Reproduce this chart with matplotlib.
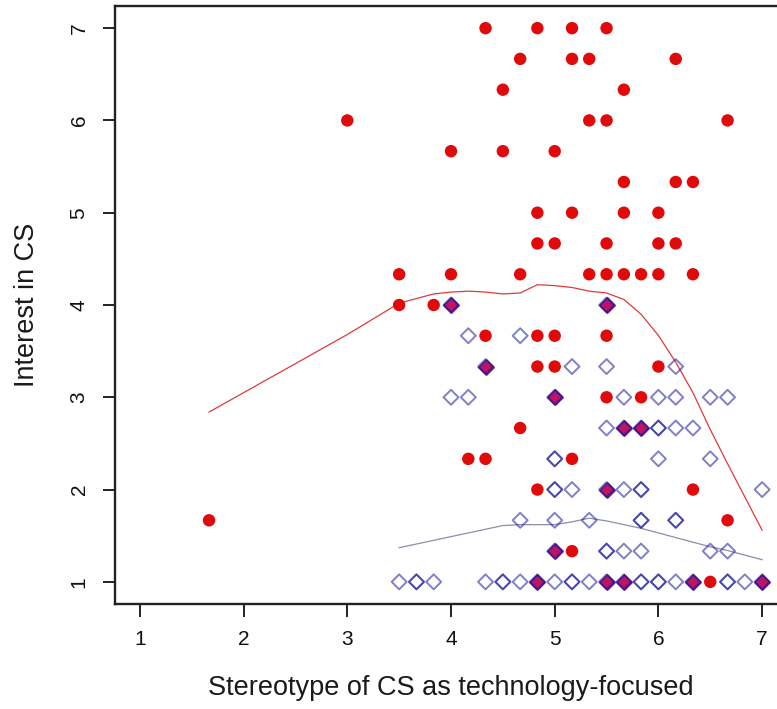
import matplotlib
matplotlib.use("Agg")
import matplotlib.pyplot as plt

plt.rcParams["font.family"] = ["Liberation Sans", "DejaVu Sans"]

# Group 1 (filled red circles): stereotype score vs. interest in CS
red_x = [4.333, 4.833, 5.167, 5.5,
         4.667, 5.167, 5.333, 6.167,
         4.5, 5.667,
         3.0, 5.333, 5.5, 6.667,
         4.0, 4.5, 5.0,
         5.667, 6.167, 6.333,
         4.833, 5.167, 5.667, 6.0,
         4.833, 5.0, 5.5, 6.0, 6.167,
         3.5, 4.0, 4.667, 5.333, 5.5, 5.667, 5.833, 6.0, 6.333,
         3.5, 3.833, 4.0, 5.5,
         4.333, 4.833, 5.0, 5.5,
         4.333, 4.833, 5.0, 6.0,
         5.0, 5.5, 5.833,
         4.667, 5.667, 5.833,
         4.167, 4.333, 5.167,
         4.833, 5.5, 6.333,
         1.667, 6.667,
         5.0, 5.167,
         4.833, 5.5, 5.667, 6.333, 6.5, 7.0]
red_y = [7.0] * 4 + [6.667] * 4 + [6.333] * 2 + [6.0] * 4 + [5.667] * 3 + \
        [5.333] * 3 + [5.0] * 4 + [4.667] * 5 + [4.333] * 9 + [4.0] * 4 + \
        [3.667] * 4 + [3.333] * 4 + [3.0] * 3 + [2.667] * 3 + [2.333] * 3 + \
        [2.0] * 3 + [1.667] * 2 + [1.333] * 2 + [1.0] * 6

# Group 2 (open blue diamonds); repeated entries are tied observations
blue_x = [4.0, 5.5,
          4.167, 4.667,
          4.333, 5.167, 5.5, 6.167,
          4.0, 4.167, 5.0, 5.667, 6.0, 6.167, 6.5, 6.667,
          5.5, 5.667, 5.833, 6.0, 6.0, 6.167, 6.333,
          5.0, 5.0, 6.0, 6.5,
          5.0, 5.0, 5.167, 5.5, 5.667, 5.833, 5.833, 7.0,
          4.667, 5.0, 5.333, 5.833, 5.833, 6.167, 6.167,
          5.0, 5.5, 5.5, 5.667, 5.833, 6.5, 6.667,
          3.5, 3.667, 3.667, 3.833, 4.333, 4.5, 4.5, 4.667, 4.833, 5.0,
          5.167, 5.167, 5.333, 5.5, 5.667, 5.833, 5.833, 6.0, 6.0,
          6.167, 6.333, 6.667, 6.667, 6.833, 7.0]
blue_y = [4.0] * 2 + [3.667] * 2 + [3.333] * 4 + [3.0] * 8 + [2.667] * 7 + \
         [2.333] * 4 + [2.0] * 8 + [1.667] * 7 + [1.333] * 7 + [1.0] * 25

# Smoothed (lowess) trends for each group
red_fit_x = [1.667, 3.0, 3.5, 3.833, 4.0, 4.167, 4.333, 4.5, 4.667, 4.833,
             5.0, 5.167, 5.333, 5.5, 5.667, 5.833, 6.0, 6.167, 6.333, 6.5,
             6.667, 7.0]
red_fit_y = [2.84, 3.68, 4.02, 4.12, 4.14, 4.15, 4.14, 4.12, 4.13, 4.22,
             4.21, 4.19, 4.15, 4.13, 4.06, 3.90, 3.67, 3.38, 3.05, 2.65,
             2.28, 1.56]
blue_fit_x = [3.5, 3.667, 3.833, 4.0, 4.167, 4.333, 4.5, 4.667, 4.833, 5.0,
              5.167, 5.333, 5.5, 5.667, 5.833, 6.0, 6.167, 6.333, 6.5, 6.667,
              6.833, 7.0]
blue_fit_y = [1.37, 1.41, 1.45, 1.49, 1.53, 1.57, 1.61, 1.62, 1.62, 1.62,
              1.65, 1.69, 1.66, 1.62, 1.58, 1.53, 1.48, 1.43, 1.38, 1.34,
              1.29, 1.24]

x_ticks = [1, 2, 3, 4, 5, 6, 7]
y_ticks = [1, 2, 3, 4, 5, 6, 7]

fig = plt.figure(figsize=(7.77, 7.09), dpi=100)
ax = fig.add_axes([115 / 777, 105 / 709, 672 / 777, 598 / 709])

blue_set = {(round(x, 3), round(y, 3)) for x, y in zip(blue_x, blue_y)}
both = [(x, y) for x, y in zip(red_x, red_y) if (round(x, 3), round(y, 3)) in blue_set]
red_only = [(x, y) for x, y in zip(red_x, red_y) if (round(x, 3), round(y, 3)) not in blue_set]

ax.plot(red_fit_x, red_fit_y, color="#e03a3a", lw=0.9, zorder=2)
ax.plot(blue_fit_x, blue_fit_y, color="#8a8ea8", lw=0.9, zorder=2)

ax.scatter([p[0] for p in red_only], [p[1] for p in red_only], s=80,
           marker="o", color="#e00a0a", edgecolors="none", zorder=3)
ax.scatter([p[0] for p in both], [p[1] for p in both], s=58, marker="D",
           facecolor="#bf1460", edgecolors="#6c1a8c", linewidths=1.4,
           zorder=3)
ax.scatter(blue_x, blue_y, s=58, marker="D", facecolor="none",
           edgecolors="#18189a", linewidths=1.4, alpha=0.55, zorder=4)

ax.set_xlim(0.76, 7.24)
ax.set_ylim(0.76, 7.24)
ax.set_xticks(x_ticks)
ax.set_yticks(y_ticks)
ax.set_xticklabels([str(t) for t in x_ticks])
ax.set_yticklabels([str(t) for t in y_ticks], rotation=90, va="center")

for side in ["left", "bottom", "top", "right"]:
    ax.spines[side].set_color("#222222")
    ax.spines[side].set_linewidth(1.7)

ax.tick_params(axis="both", direction="out", length=9, width=1.4,
               color="#222222", labelsize=15, pad=10, labelcolor="#111111")

ax.set_xlabel("Stereotype of CS as technology-focused", fontsize=19.5,
              color="#1a1a1a")
ax.set_ylabel("Interest in CS", fontsize=19.5, color="#1a1a1a")
ax.xaxis.set_label_coords(0.5, -0.1405)
ax.xaxis.label.set_va("center")
ax.yaxis.set_label_coords(-0.131, 0.5)
ax.yaxis.label.set_va("center")

fig.savefig("out.png", dpi=100, facecolor="white")
